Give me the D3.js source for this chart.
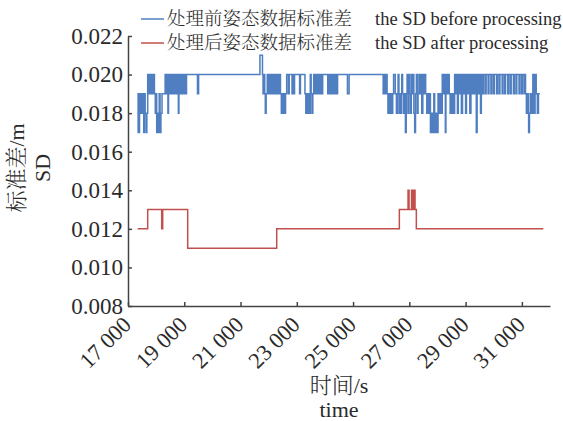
<!DOCTYPE html>
<html>
<head>
<meta charset="utf-8">
<script src="https://cdn.jsdelivr.net/npm/d3@7"></script>
<style>
  body { margin: 0; background: #fff; }
  svg text { font-family: "Liberation Serif", "Noto Serif CJK SC", "Noto Sans CJK SC", serif; fill: #2a2a2a; }
  svg text.cn { font-weight: 300; }
</style>
</head>
<body>
<div id="chart"></div>
<script>
// x ticks (s) and y ticks (m)
var xTicks = [17000, 19000, 21000, 23000, 25000, 27000, 29000, 31000];
var yTicks = [0.008, 0.010, 0.012, 0.014, 0.016, 0.018, 0.020, 0.022];

var legendCn = ['处理前姿态数据标准差', '处理后姿态数据标准差'];
var legendEn = ['the SD before processing', 'the SD after processing'];

// SD before processing: [time, value], value holds until next point
var before = [
  [17340, 0.017], [17360, 0.019], [17390, 0.017], [17410, 0.019], [17440, 0.018],
  [17470, 0.019], [17500, 0.018], [17530, 0.019], [17560, 0.017], [17580, 0.019],
  [17610, 0.018], [17640, 0.017], [17670, 0.018], [17700, 0.020], [17730, 0.019],
  [17760, 0.020], [17800, 0.019], [17830, 0.020], [17870, 0.019], [17900, 0.020],
  [17940, 0.019], [17970, 0.018], [18000, 0.019], [18020, 0.017], [18050, 0.018],
  [18080, 0.017], [18110, 0.019], [18140, 0.017], [18170, 0.018], [18210, 0.019],
  [18320, 0.020], [18350, 0.019], [18380, 0.020], [18420, 0.018], [18440, 0.020],
  [18480, 0.019], [18510, 0.020], [18540, 0.019], [18580, 0.020], [18610, 0.019],
  [18640, 0.020], [18670, 0.019], [18700, 0.020], [18730, 0.019], [18760, 0.020],
  [18790, 0.018], [18810, 0.020], [18850, 0.019], [18880, 0.020], [18910, 0.019],
  [18950, 0.020], [18980, 0.019], [19010, 0.020], [19040, 0.019], [19080, 0.020],
  [19470, 0.019], [19510, 0.020], [21690, 0.021], [21780, 0.020], [21800, 0.019],
  [21830, 0.020], [21860, 0.019], [21880, 0.018], [21910, 0.019], [21950, 0.020],
  [21980, 0.019], [22010, 0.020], [22050, 0.019], [22080, 0.020], [22120, 0.019],
  [22150, 0.020], [22190, 0.019], [22230, 0.020], [22260, 0.019], [22300, 0.020],
  [22340, 0.019], [22380, 0.020], [22420, 0.019], [22450, 0.018], [22480, 0.019],
  [22500, 0.018], [22540, 0.019], [22570, 0.018], [22600, 0.019], [22640, 0.020],
  [22700, 0.019], [22730, 0.020], [22830, 0.019], [22870, 0.020], [22890, 0.019],
  [22920, 0.020], [23100, 0.019], [23130, 0.020], [23290, 0.019], [23320, 0.018],
  [23350, 0.019], [23380, 0.018], [23420, 0.019], [23450, 0.018], [23480, 0.020],
  [23510, 0.019], [23540, 0.018], [23570, 0.019], [23600, 0.020], [23640, 0.019],
  [23680, 0.020], [23720, 0.019], [23760, 0.020], [23790, 0.019], [23840, 0.020],
  [23880, 0.019], [23920, 0.020], [24100, 0.019], [24130, 0.020], [24160, 0.019],
  [24190, 0.020], [24220, 0.019], [24250, 0.020], [24280, 0.019], [24310, 0.020],
  [24340, 0.019], [24370, 0.020], [24420, 0.019], [24450, 0.020], [24800, 0.019],
  [24860, 0.020], [26070, 0.019], [26100, 0.020], [26130, 0.019], [26170, 0.020],
  [26210, 0.019], [26240, 0.018], [26270, 0.019], [26300, 0.018], [26340, 0.019],
  [26380, 0.018], [26410, 0.019], [26440, 0.020], [26500, 0.019], [26540, 0.018],
  [26570, 0.019], [26600, 0.020], [26630, 0.018], [26660, 0.019], [26700, 0.018],
  [26730, 0.020], [26760, 0.019], [26800, 0.018], [26830, 0.019], [26860, 0.017],
  [26890, 0.019], [26920, 0.020], [26950, 0.018], [26980, 0.020], [27010, 0.019],
  [27040, 0.018], [27070, 0.020], [27100, 0.019], [27130, 0.020], [27160, 0.018],
  [27190, 0.017], [27220, 0.019], [27250, 0.020], [27280, 0.018], [27310, 0.019],
  [27340, 0.020], [27380, 0.019], [27410, 0.020], [27440, 0.018], [27480, 0.020],
  [27510, 0.019], [27540, 0.020], [27580, 0.019], [27620, 0.018], [27650, 0.019],
  [27680, 0.018], [27720, 0.019], [27750, 0.017], [27790, 0.018], [27830, 0.017],
  [27870, 0.019], [27900, 0.017], [27940, 0.018], [27980, 0.017], [28020, 0.019],
  [28050, 0.018], [28090, 0.019], [28130, 0.018], [28170, 0.020], [28210, 0.019],
  [28240, 0.020], [28280, 0.017], [28300, 0.020], [28340, 0.019], [28380, 0.020],
  [28420, 0.019], [28450, 0.018], [28480, 0.019], [28510, 0.018], [28540, 0.019],
  [28580, 0.018], [28610, 0.020], [28650, 0.019], [28680, 0.020], [28710, 0.018],
  [28740, 0.020], [28780, 0.019], [28810, 0.020], [28850, 0.018], [28890, 0.020],
  [28920, 0.019], [28960, 0.020], [29000, 0.018], [29030, 0.020], [29070, 0.019],
  [29110, 0.020], [29150, 0.018], [29190, 0.020], [29220, 0.019], [29260, 0.020],
  [29300, 0.019], [29340, 0.020], [29380, 0.017], [29410, 0.020], [29450, 0.019],
  [29490, 0.020], [29530, 0.018], [29560, 0.020], [29600, 0.019], [29640, 0.020],
  [29700, 0.019], [29730, 0.020], [29800, 0.019], [29830, 0.020], [29900, 0.019],
  [29930, 0.020], [29990, 0.019], [30020, 0.020], [30100, 0.019], [30130, 0.020],
  [30190, 0.019], [30220, 0.020], [30300, 0.019], [30330, 0.020], [30390, 0.019],
  [30420, 0.020], [30500, 0.019], [30530, 0.020], [30590, 0.019], [30620, 0.020],
  [30700, 0.019], [30730, 0.020], [30790, 0.019], [30820, 0.020], [30900, 0.019],
  [30930, 0.020], [30990, 0.019], [31020, 0.020], [31080, 0.019], [31110, 0.020],
  [31130, 0.019], [31160, 0.018], [31200, 0.019], [31240, 0.017], [31270, 0.018],
  [31310, 0.019], [31350, 0.018], [31390, 0.020], [31430, 0.018], [31470, 0.020],
  [31510, 0.019], [31550, 0.018], [31590, 0.019], [31640, 0.019]
];

// SD after processing
var after = [
  [17345, 0.012], [17700, 0.013], [18198, 0.012], [18233, 0.013], [19122, 0.011],
  [22286, 0.012], [26645, 0.013], [26954, 0.014], [26990, 0.013], [27078, 0.014],
  [27114, 0.013], [27167, 0.014], [27203, 0.013], [27249, 0.012], [31764, 0.012]
];

var colors = ['#4f7fc0', '#c0504d'];

var margin = {top: 36, right: 13, bottom: 115, left: 128};
var width = 563 - margin.left - margin.right;
var height = 421 - margin.top - margin.bottom;

var x = d3.scaleLinear().domain([17000, 32000]).range([0, width]);
var y = d3.scaleLinear().domain([0.008, 0.022]).range([height, 0]);

var line = d3.line()
    .curve(d3.curveStepAfter)
    .x(function(d) { return x(d[0]); })
    .y(function(d) { return y(d[1]); });

var svg = d3.select('#chart').append('svg')
    .attr('width', 563)
    .attr('height', 421);

var g = svg.append('g')
    .attr('transform', 'translate(' + margin.left + ',' + margin.top + ')');

// Series
[before, after].forEach(function (s, i) {
  g.append('path')
    .datum(s)
    .attr('fill', 'none')
    .attr('stroke', colors[i])
    .attr('stroke-width', 1.5)
    .attr('d', line);
});

// X axis
var xAxis = g.append('g')
    .attr('transform', 'translate(0,' + height + ')')
    .call(d3.axisBottom(x)
      .tickValues(xTicks)
      .tickSize(-4)
      .tickSizeOuter(0)
      .tickFormat(function(d) { return d3.format(',')(d).replace(',', ' '); }));

xAxis.selectAll('text')
    .attr('x', 0)
    .attr('y', 0)
    .attr('dy', 0)
    .attr('text-anchor', 'end')
    .attr('transform', 'translate(4,20) rotate(-45)')
    .style('font-family', '"Liberation Serif", serif')
    .style('font-size', '22.5px');

// Y axis
var yAxis = g.append('g')
    .call(d3.axisLeft(y)
      .tickValues(yTicks)
      .tickSize(-4)
      .tickSizeOuter(0)
      .tickPadding(5)
      .tickFormat(d3.format('.3f')));

yAxis.selectAll('text')
    .style('font-family', '"Liberation Serif", serif')
    .style('font-size', '23px');

g.selectAll('.domain, .tick line')
    .attr('stroke', '#444')
    .attr('stroke-width', 1.5);

// Axis titles
svg.append('text')
    .attr('class', 'cn')
    .attr('x', 339).attr('y', 393)
    .attr('text-anchor', 'middle')
    .style('font-size', '22px')
    .text('时间/s');
svg.append('text')
    .attr('x', 339).attr('y', 417)
    .attr('text-anchor', 'middle')
    .style('font-size', '22px')
    .text('time');

svg.append('text')
    .attr('class', 'cn')
    .attr('transform', 'translate(24,168) rotate(-90)')
    .attr('text-anchor', 'middle')
    .style('font-size', '22px')
    .text('标准差/m');
svg.append('text')
    .attr('transform', 'translate(50,168) rotate(-90)')
    .attr('text-anchor', 'middle')
    .style('font-size', '22px')
    .text('SD');

// Legend
var legend = svg.selectAll('.legend')
    .data(legendCn)
    .enter().append('g')
    .attr('class', 'legend')
    .attr('transform', function(d, i) { return 'translate(0,' + (19 + i * 24) + ')'; });

legend.append('line')
    .attr('x1', 141).attr('x2', 164)
    .attr('stroke', function(d, i) { return colors[i]; })
    .attr('stroke-width', 1.5);

legend.append('text')
    .attr('class', 'cn')
    .attr('x', 167)
    .attr('dy', '0.35em')
    .style('font-size', '18.5px')
    .text(function(d) { return d; });

legend.append('text')
    .attr('x', 375)
    .attr('dy', '0.35em')
    .style('font-size', '18.5px')
    .text(function(d, i) { return legendEn[i]; });
</script>
</body>
</html>
